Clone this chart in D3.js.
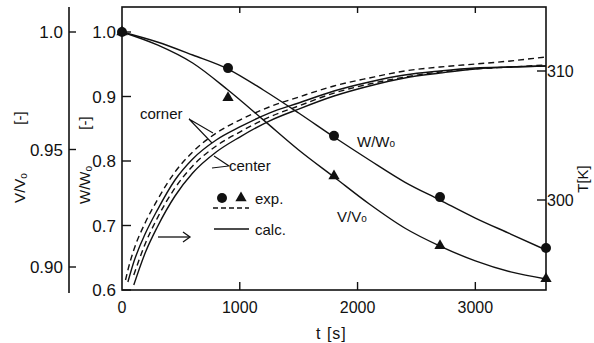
<!DOCTYPE html>
<html><head><meta charset="utf-8">
<script src="https://cdn.jsdelivr.net/npm/d3@7"></script>
<style>
body{margin:0;background:#fff}
svg text{font-family:"Liberation Sans",Arial,sans-serif;fill:#111}
</style></head><body>
<div id="chart"></div>
<script>
// experimental points
var expTime = [0, 900, 1800, 2700, 3600];
var expW = [1.0, 0.944, 0.839, 0.744, 0.665];
var expV = [1.0, 0.972, 0.9387, 0.909, 0.895];

// calculated W/W0 and V/V0
var calcTime = [0, 300, 600, 900, 1200, 1500, 1800, 2100, 2400, 2700, 3000, 3300, 3600];
var calcW = [1.0, 0.9845, 0.9643, 0.9426, 0.9101, 0.8744, 0.8372, 0.8016, 0.7674, 0.7395, 0.7116, 0.6868, 0.662];
var calcV = [1.0, 0.9945, 0.9868, 0.9753, 0.9626, 0.9498, 0.9383, 0.9268, 0.9166, 0.9089, 0.9026, 0.8979, 0.8949];

// temperatures (right axis)
var tempTime = [30, 50, 100, 200, 300, 450, 600, 800, 1000, 1250, 1500, 1800, 2100, 2400, 2700, 3000, 3300, 3600];
var cornerExp = [293.8, 294.57, 296.12, 298.29, 300.0, 302.17, 303.72, 305.19, 306.2, 307.21, 307.98, 308.84, 309.46, 310.0, 310.31, 310.54, 310.78, 311.09];
var cornerCalc = [null, 293.64, 295.19, 297.44, 299.22, 301.55, 303.18, 304.65, 305.66, 306.74, 307.52, 308.45, 309.15, 309.69, 310.0, 310.23, 310.31, 310.39];
var centerExp = [null, null, 294.19, 296.67, 298.6, 300.93, 302.64, 304.19, 305.27, 306.43, 307.29, 308.29, 308.99, 309.53, 309.92, 310.16, 310.31, 310.47];
var centerCalc = [null, null, 293.41, 295.97, 297.91, 300.31, 302.09, 303.72, 304.88, 306.12, 307.05, 308.06, 308.84, 309.46, 309.84, 310.16, 310.31, 310.39];

var xTicks = [0, 1000, 2000, 3000];
var wTicks = [0.6, 0.7, 0.8, 0.9, 1.0];
var vTicks = [0.90, 0.95, 1.0];
var tTicks = [300, 310];

var width = 594, height = 343;
var pl = 122, pr = 546, pt = 7, pb = 290;

var svg = d3.select("#chart").append("svg")
  .attr("width", width)
  .attr("height", height);

var x = d3.scaleLinear().domain([0, 3600]).range([pl, pr]);
var yW = d3.scaleLinear().domain([0.6, 1.0]).range([pb, 32]);
var yV = d3.scaleLinear().domain([0.90, 1.0]).range([267, 32]);
var yT = d3.scaleLinear().domain([300, 310]).range([200, 71]);

// frame
svg.append("rect")
  .attr("x", pl).attr("y", pt)
  .attr("width", pr - pl).attr("height", pb - pt)
  .attr("fill", "none").attr("stroke", "#111").attr("stroke-width", 1.6);

// x ticks inside bottom and top
svg.append("g").selectAll("line").data(xTicks.slice(1)).enter().append("line")
  .attr("x1", function(d) { return x(d); }).attr("x2", function(d) { return x(d); })
  .attr("y1", pb).attr("y2", pb - 8)
  .attr("stroke", "#111").attr("stroke-width", 1.4);
svg.append("g").selectAll("line").data(xTicks.slice(1)).enter().append("line")
  .attr("x1", function(d) { return x(d); }).attr("x2", function(d) { return x(d); })
  .attr("y1", pt).attr("y2", pt + 6)
  .attr("stroke", "#111").attr("stroke-width", 1.4);
svg.append("g").selectAll("text").data(xTicks).enter().append("text")
  .attr("x", function(d) { return x(d); }).attr("y", 313)
  .attr("text-anchor", "middle").attr("font-size", 16)
  .text(function(d) { return d; });
svg.append("text").attr("x", 316).attr("y", 339).attr("font-size", 16)
  .attr("letter-spacing", 1).text("t  [s]");

// W/W0 axis (inner left)
svg.append("g").selectAll("line").data(wTicks).enter().append("line")
  .attr("x1", pl).attr("x2", pl + 9)
  .attr("y1", function(d) { return yW(d); }).attr("y2", function(d) { return yW(d); })
  .attr("stroke", "#111").attr("stroke-width", 1.4);
svg.append("g").selectAll("text").data(wTicks).enter().append("text")
  .attr("x", 116).attr("y", function(d) { return yW(d) + 6; })
  .attr("text-anchor", "end").attr("font-size", 17)
  .text(function(d) { return d3.format(".1f")(d); });

// V/V0 axis (outer left)
svg.append("line").attr("x1", 69).attr("x2", 69).attr("y1", pt).attr("y2", 293)
  .attr("stroke", "#111").attr("stroke-width", 1.6);
svg.append("g").selectAll("line").data(vTicks).enter().append("line")
  .attr("x1", 69).attr("x2", 76)
  .attr("y1", function(d) { return yV(d); }).attr("y2", function(d) { return yV(d); })
  .attr("stroke", "#111").attr("stroke-width", 1.4);
svg.append("g").selectAll("text").data(vTicks).enter().append("text")
  .attr("x", 63).attr("y", function(d) { return yV(d) + 6; })
  .attr("text-anchor", "end").attr("font-size", 17)
  .text(function(d) { return d == 1 ? "1.0" : d3.format(".2f")(d); });

// T axis (right)
svg.append("g").selectAll("line").data(tTicks).enter().append("line")
  .attr("x1", pr - 9).attr("x2", pr)
  .attr("y1", function(d) { return yT(d); }).attr("y2", function(d) { return yT(d); })
  .attr("stroke", "#111").attr("stroke-width", 1.4);
svg.append("g").selectAll("text").data(tTicks).enter().append("text")
  .attr("x", pr + 1).attr("y", function(d) { return yT(d) + 6; })
  .attr("font-size", 16)
  .text(function(d) { return d; });

// rotated axis titles
function rotLabel(cx, cy, main, sub) {
  var t = svg.append("text")
    .attr("transform", "translate(" + cx + "," + cy + ") rotate(-90)")
    .attr("text-anchor", "middle").attr("font-size", 15);
  t.append("tspan").text(main);
  if (sub) t.append("tspan").attr("font-size", 10).attr("dy", 2).text(sub);
  return t;
}
rotLabel(25, 188, "V/V", "o");
rotLabel(25, 118, "[-]");
rotLabel(90, 185, "W/W", "o");
rotLabel(90, 123, "[-]");
rotLabel(588, 179, "T[K]");

// lines
var line = d3.line()
  .defined(function(d) { return d[1] != null; })
  .x(function(d) { return x(d[0]); })
  .curve(d3.curveMonotoneX);

function draw(times, vals, yScale, dashed) {
  var pts = times.map(function(t, i) { return [t, vals[i]]; });
  svg.append("path")
    .datum(pts)
    .attr("d", line.y(function(d) { return yScale(d[1]); }))
    .attr("fill", "none")
    .attr("stroke", "#111")
    .attr("stroke-width", 1.4)
    .attr("stroke-dasharray", dashed ? "6,4" : null);
}

draw(calcTime, calcW, yW, false);
draw(calcTime, calcV, yV, false);
draw(tempTime, cornerExp, yT, true);
draw(tempTime, cornerCalc, yT, false);
draw(tempTime, centerExp, yT, true);
draw(tempTime, centerCalc, yT, false);

// markers
svg.append("g").selectAll("circle").data(expTime).enter().append("circle")
  .attr("cx", function(d) { return x(d); })
  .attr("cy", function(d, i) { return yW(expW[i]); })
  .attr("r", 5).attr("fill", "#111");
var tri = d3.symbol().type(d3.symbolTriangle).size(55);
svg.append("g").selectAll("path").data(expTime).enter().append("path")
  .attr("d", tri)
  .attr("transform", function(d, i) { return "translate(" + x(d) + "," + yV(expV[i]) + ")"; })
  .attr("fill", "#111");

// annotations
svg.append("text").attr("x", 140).attr("y", 119).attr("font-size", 15).text("corner");
svg.append("path").attr("d", "M213,133 L189,119 L212,143")
  .attr("fill", "none").attr("stroke", "#111").attr("stroke-width", 1.1);
svg.append("text").attr("x", 229).attr("y", 171).attr("font-size", 15).text("center");
svg.append("path").attr("d", "M214,156 L229,166 L212,168")
  .attr("fill", "none").attr("stroke", "#111").attr("stroke-width", 1.1);

var wl = svg.append("text").attr("x", 357).attr("y", 147).attr("font-size", 15);
wl.append("tspan").text("W/W");
wl.append("tspan").attr("font-size", 10).text("o");
var vl = svg.append("text").attr("x", 337).attr("y", 222).attr("font-size", 15);
vl.append("tspan").text("V/V");
vl.append("tspan").attr("font-size", 10).text("o");

// legend
svg.append("circle").attr("cx", 222).attr("cy", 198).attr("r", 5).attr("fill", "#111");
svg.append("path").attr("d", tri).attr("transform", "translate(241,198)").attr("fill", "#111");
svg.append("line").attr("x1", 213).attr("x2", 249).attr("y1", 208).attr("y2", 208)
  .attr("stroke", "#111").attr("stroke-width", 1.3).attr("stroke-dasharray", "5,3");
svg.append("text").attr("x", 255).attr("y", 204).attr("font-size", 15).text("exp.");
svg.append("line").attr("x1", 214).attr("x2", 249).attr("y1", 229).attr("y2", 229)
  .attr("stroke", "#111").attr("stroke-width", 1.3);
svg.append("text").attr("x", 255).attr("y", 235).attr("font-size", 15).text("calc.");

// arrow pointing to T axis
svg.append("line").attr("x1", 158).attr("x2", 189).attr("y1", 237).attr("y2", 237)
  .attr("stroke", "#111").attr("stroke-width", 1.3);
svg.append("path").attr("d", "M183,232 L190,237 L183,242")
  .attr("fill", "none").attr("stroke", "#111").attr("stroke-width", 1.3);
</script>
</body></html>
